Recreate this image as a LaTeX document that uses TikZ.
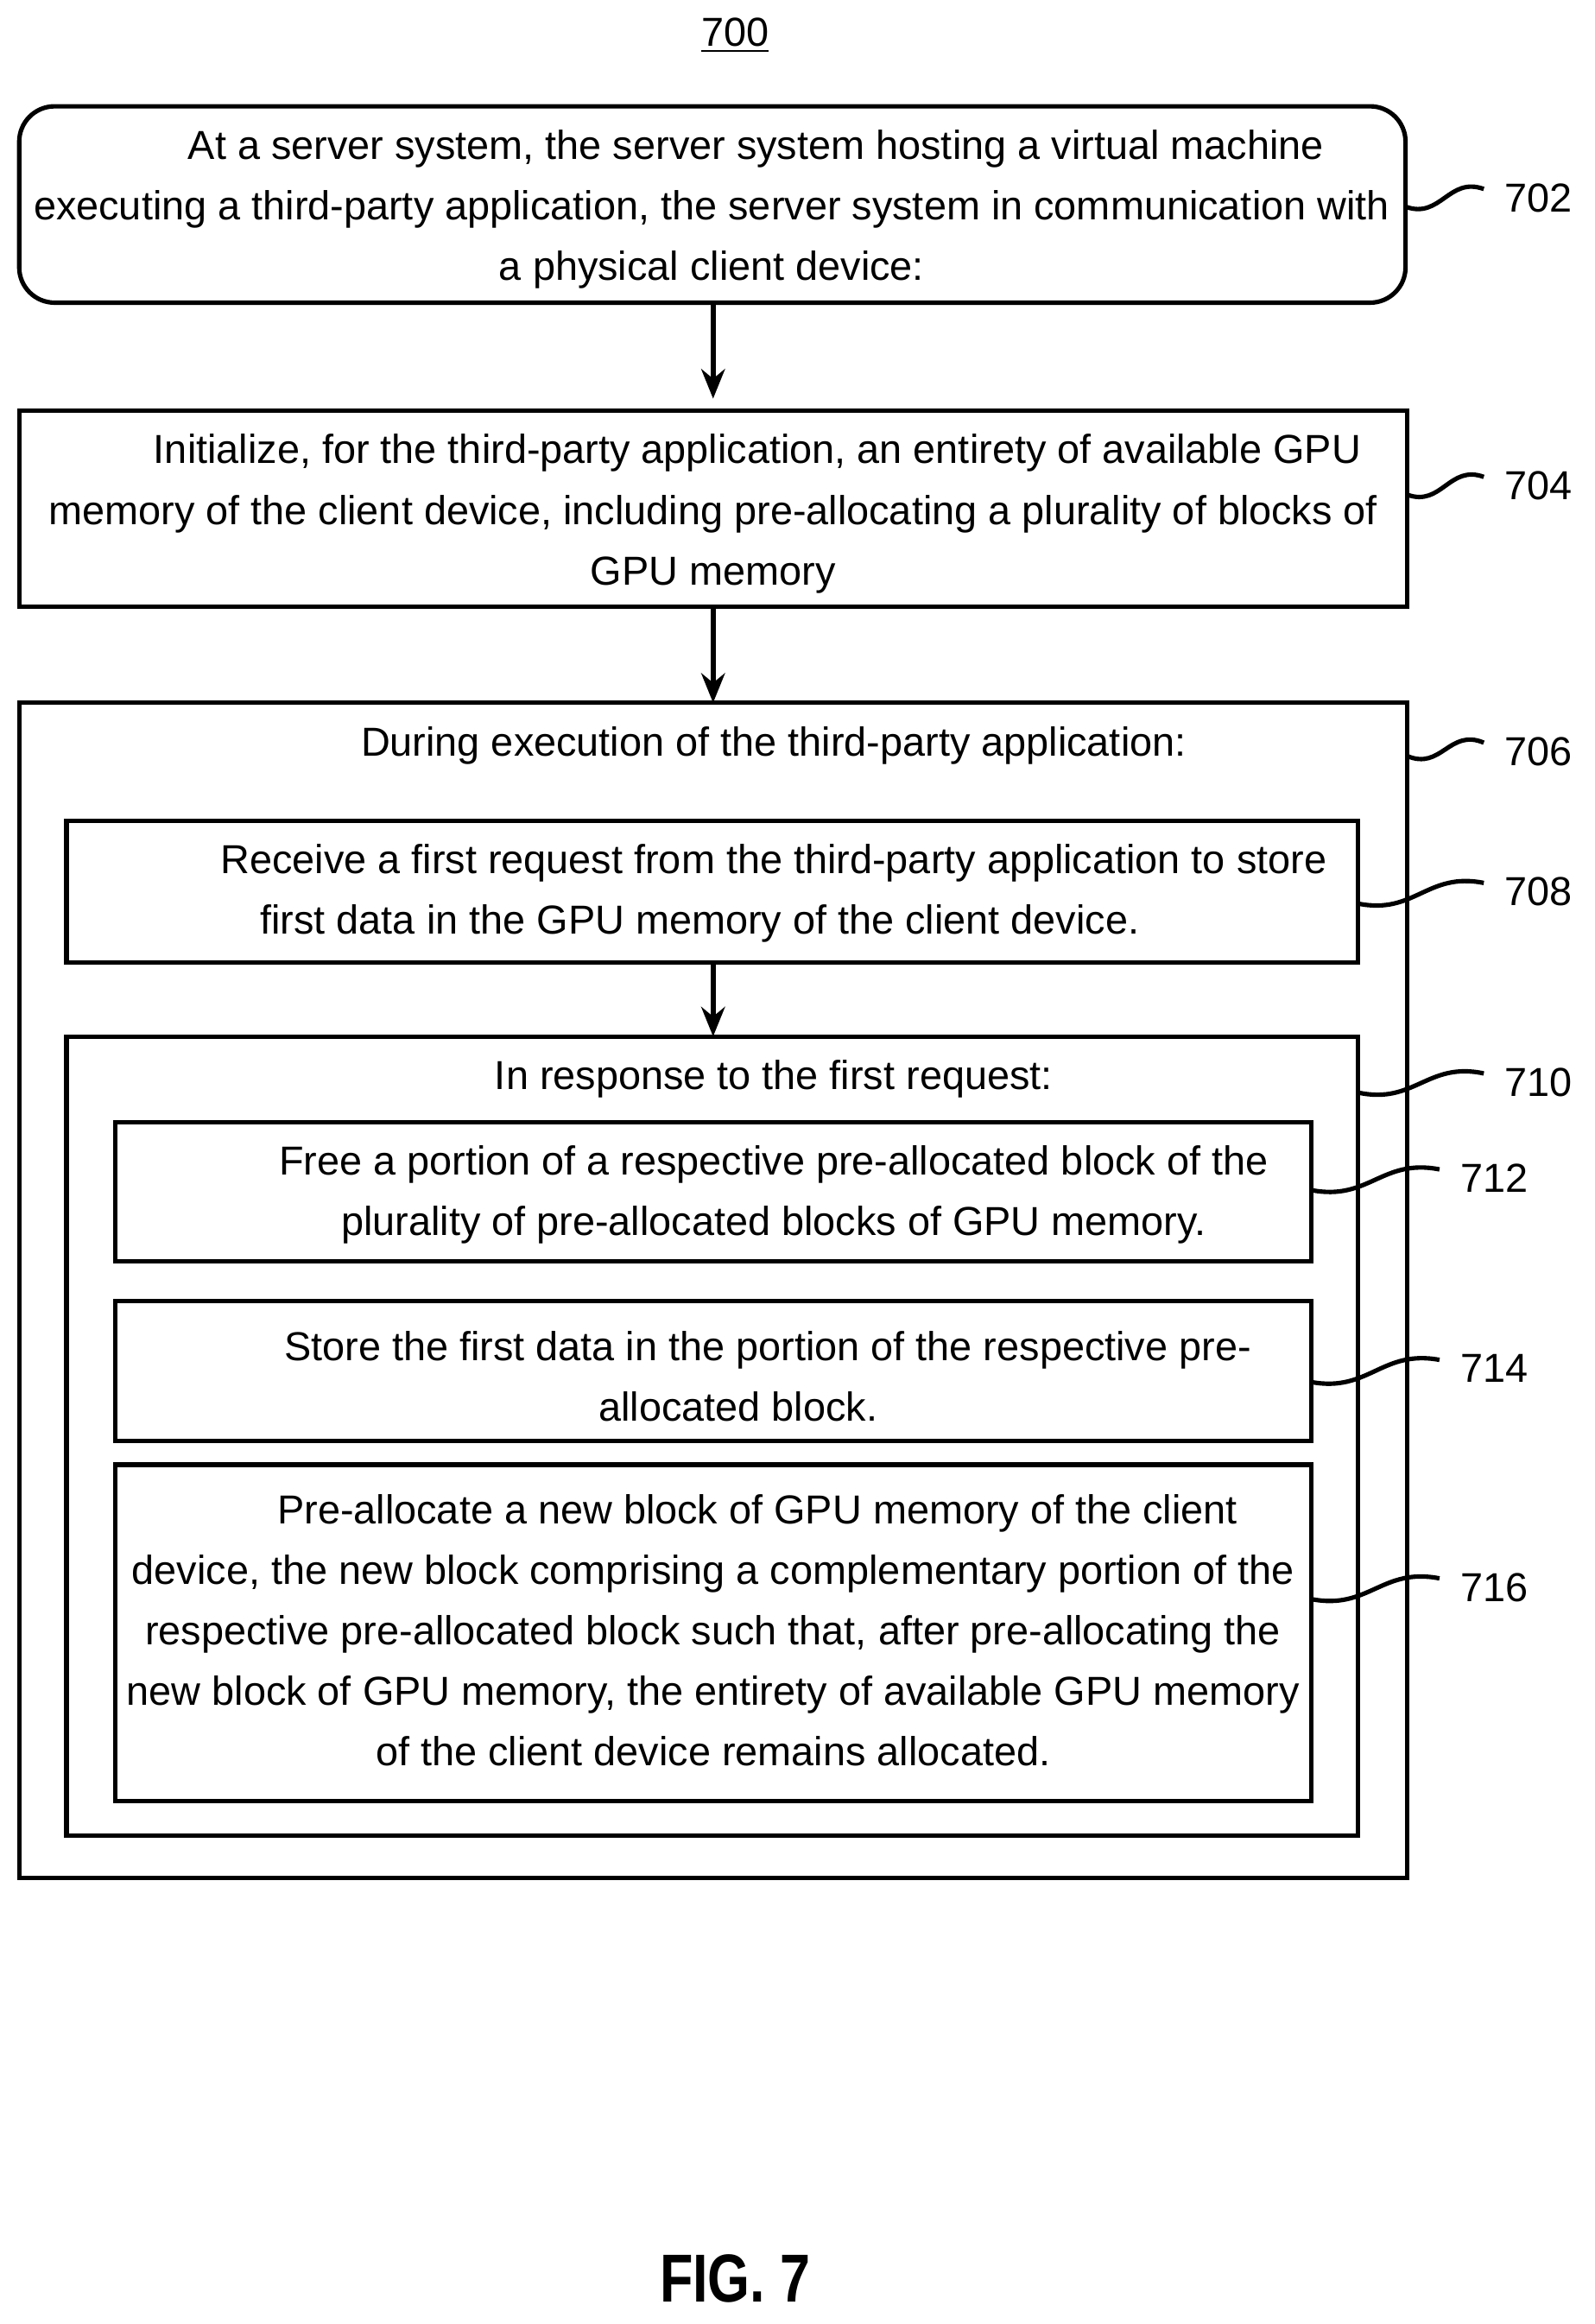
\documentclass[tikz,border=0pt]{standalone}
\usetikzlibrary{arrows.meta,calc}
\usepackage{fontspec}
\setmainfont{Liberation Sans}
\begin{document}
\begin{tikzpicture}[x=0.5pt,y=-0.5pt,
  txt/.style={align=center,font=\fontsize{13.7}{20.5}\selectfont,inner sep=0},
  box/.style={draw,line width=1.5pt},
  arr/.style={-{Stealth[length=10pt,width=8pt]},line width=1.8pt},
  sq/.style={line width=1.5pt},
  lab/.style={font=\fontsize{13.7}{15}\selectfont,anchor=west,inner sep=0}]
\useasboundingbox (0,0) rectangle (1080,1574);
\node[txt] (t700) at (498,24) {\underline{700}};
% 702
\draw[box,rounded corners=12pt] (13,72) rectangle (952,205);
\node[txt] (n702) at (482,142) {\hspace*{30pt}At a server system, the server system hosting a virtual machine\\executing a third-party application, the server system in communication with\\a physical client device:};
% 704
\draw[box] (13,278) rectangle (953,411);
\node[txt] (n704) at (483,348) {\hspace*{30pt}Initialize, for the third-party application, an entirety of available GPU\\memory of the client device, including pre-allocating a plurality of blocks of\\GPU memory};
% 706
\draw[box] (13,476) rectangle (953,1272);
\node[txt] (n706) at (524,505) {During execution of the third-party application:};
% 708
\draw[box] (45,556) rectangle (920,652);
\node[txt] (n708) at (524,605) {Receive a first request from the third-party application to store\\\hspace*{-50pt}first data in the GPU memory of the client device.};
% 710
\draw[box] (45,702) rectangle (920,1243);
\node[txt] (n710) at (524,731) {In response to the first request:};
% 712
\draw[box] (78,760) rectangle (888,854);
\node[txt] (n712) at (524,809) {Free a portion of a respective pre-allocated block of the\\plurality of pre-allocated blocks of GPU memory.};
% 714
\draw[box] (78,881) rectangle (888,976);
\node[txt] (n714) at (500,932) {\hspace*{20pt}Store the first data in the portion of the respective pre-\\allocated block.};
% 716
\draw[box] (78,992) rectangle (888,1220);
\node[txt] (n716) at (483,1104) {\hspace*{30pt}Pre-allocate a new block of GPU memory of the client\\device, the new block comprising a complementary portion of the\\respective pre-allocated block such that, after pre-allocating the\\new block of GPU memory, the entirety of available GPU memory\\of the client device remains allocated.};
% arrows
\coordinate (a1) at (483,205); \coordinate (b1) at (483,270);
\coordinate (a2) at (483,411); \coordinate (b2) at (483,476);
\coordinate (a3) at (483,652); \coordinate (b3) at (483,702);
\draw[arr] (a1) -- (b1);
\draw[arr] (a2) -- (b2);
\draw[arr] (a3) -- (b3);
% labels
\foreach \nm/\x/\y/\lx/\ly in {702/952/140/1005/128, 704/953/335/1005/323, 706/953/512/1005/503, 708/920/612/1005/598, 710/920/740/1005/727, 712/888/806/975/792, 714/888/936/975/921, 716/888/1083/975/1069}{
  \coordinate (s\nm) at (\x,\y);
  \coordinate (e\nm) at (\lx,\ly);
  \draw[sq] (s\nm) .. controls ($(s\nm)!0.45!(e\nm)+(0,14)$) and ($(s\nm)!0.55!(e\nm)+(0,-14)$) .. (e\nm);
  \node[lab] (l\nm) at ($(e\nm)+(14,6)$) {\nm};
}
\node[font=\bfseries\fontsize{23}{26}\selectfont,xscale=0.8] (fig) at (498,1543) {FIG. 7};
\end{tikzpicture}
\end{document}
